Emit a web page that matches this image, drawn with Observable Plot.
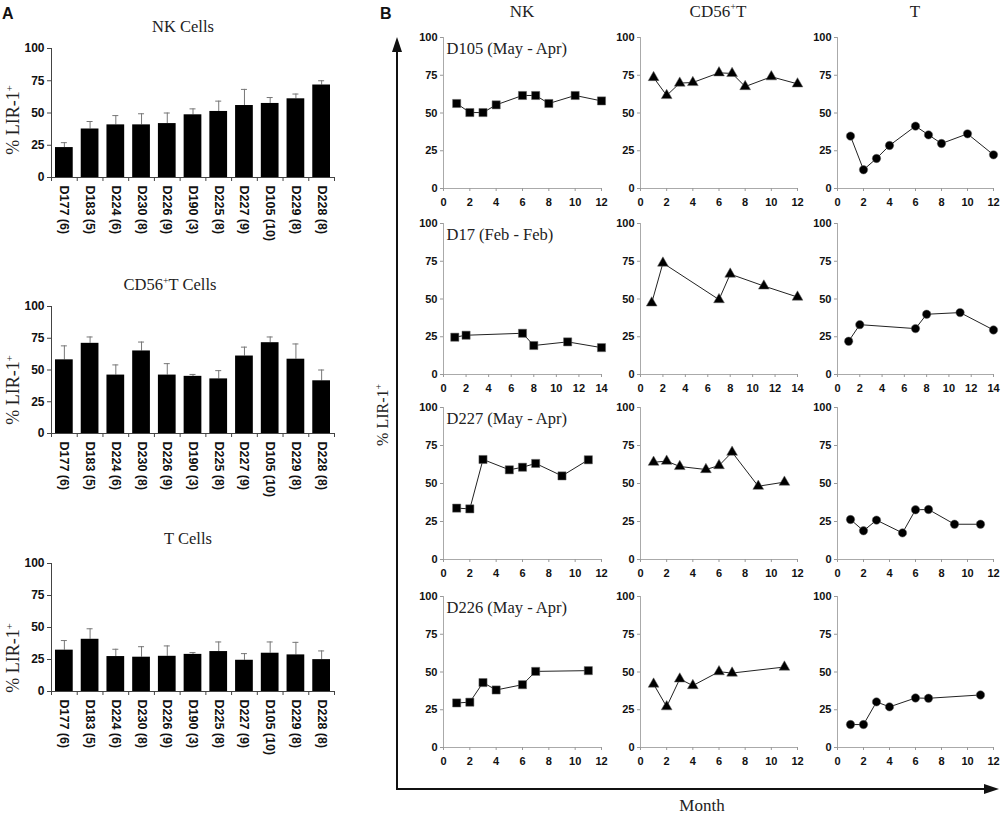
<!DOCTYPE html>
<html><head><meta charset="utf-8">
<script src="https://cdn.jsdelivr.net/npm/d3@7"></script>
<script src="https://cdn.jsdelivr.net/npm/@observablehq/plot@0.6"></script>
<style>
body{margin:0;background:#fff;}
#root{position:relative;width:1003px;height:815px;overflow:hidden;background:#fff;}
.t{position:absolute;white-space:nowrap;font-family:"Liberation Serif","Times New Roman",serif;color:#222;line-height:1;}
.rot{transform:translate(-50%,-50%) rotate(-90deg);}
.ctr{transform:translate(-50%,-50%);}
.lab{position:absolute;font-family:"Liberation Sans",Arial,sans-serif;font-weight:bold;font-size:16px;line-height:1;color:#111;}
sup{font-size:0.6em;vertical-align:0.6em;line-height:0;}
</style></head><body><div id="root"></div>
<script>
// ---------- Panel A data ----------
const donors = ["D177 (6)","D183 (5)","D224 (6)","D230 (8)","D226 (9)","D190 (3)","D225 (8)","D227 (9)","D105 (10)","D229 (8)","D228 (8)"];
const nkMean   = [23.2, 37.6, 40.8, 40.8, 41.8, 48.6, 51.2, 55.8, 57.4, 61.0, 71.7];
const nkSD     = [3.8, 5.8, 7.2, 8.6, 8.2, 4.6, 8.0, 12.5, 4.6, 3.7, 3.3];
const cd56Mean = [58.0, 71.0, 46.0, 65.0, 46.0, 45.0, 43.0, 61.0, 71.5, 58.5, 41.5];
const cd56SD   = [11.0, 5.0, 8.0, 7.0, 9.0, 1.5, 6.5, 7.0, 4.5, 12.0, 8.5];
const tMean    = [32.3, 40.8, 27.3, 26.8, 27.5, 29.0, 31.2, 24.4, 29.9, 28.6, 24.9];
const tSD      = [7.5, 8.2, 5.7, 8.2, 8.1, 1.4, 7.5, 5.2, 8.8, 9.8, 6.8];
const yTicks   = [0, 25, 50, 75, 100];

// ---------- Panel B data ----------
const monthsD105 = [1, 2, 3, 4, 6, 7, 8, 10, 12];
const d105NK     = [56.3, 50.3, 50.3, 55.4, 61.6, 61.6, 56.3, 61.6, 58.0];
const d105CD56T  = [73.5, 61.6, 69.8, 70.2, 76.6, 76.2, 67.5, 74.0, 69.3];
const d105T      = [34.7, 12.4, 19.9, 28.5, 41.3, 35.5, 29.8, 36.2, 22.3];

const monthsD17 = [1, 2, 7, 8, 11, 14];
const d17NK     = [24.7, 26.0, 27.3, 19.2, 21.6, 17.8];
const d17CD56T  = [47.4, 73.8, 49.6, 66.5, 58.6, 51.3];
const d17T      = [22.0, 33.0, 30.4, 39.9, 41.0, 29.5];

const monthsD227 = [1, 2, 3, 5, 6, 7, 9, 11];
const d227NK     = [33.8, 33.3, 65.8, 59.0, 60.7, 63.2, 55.0, 65.6];
const d227CD56T  = [64.0, 64.7, 61.2, 59.2, 61.8, 70.6, 48.2, 50.9];
const d227T      = [26.3, 18.9, 25.9, 17.5, 32.7, 32.9, 23.2, 23.2];

const monthsD226 = [1, 2, 3, 4, 6, 7, 11];
const d226NK     = [29.5, 30.0, 43.0, 38.1, 41.6, 50.4, 50.9];
const d226CD56T  = [42.0, 27.0, 45.4, 41.0, 50.2, 49.3, 53.3];
const d226T      = [15.2, 15.2, 30.2, 26.9, 32.8, 32.6, 34.8];

const donorLabels = ["D105 (May - Apr)", "D17 (Feb - Feb)", "D227 (May - Apr)", "D226 (May - Apr)"];
const monthMax = [12, 14, 12, 12];
const rowsB = [
  [monthsD105, d105NK, d105CD56T, d105T],
  [monthsD17, d17NK, d17CD56T, d17T],
  [monthsD227, d227NK, d227CD56T, d227T],
  [monthsD226, d226NK, d226CD56T, d226T]
];
const symbols = ["square", "triangle", "circle"];

// ---------- layout ----------
const root = document.getElementById("root");
function place(svg, left, top, font) {
  svg.style.position = "absolute";
  svg.style.left = left + "px";
  svg.style.top = top + "px";
  svg.style.background = "none";
  svg.style.overflow = "visible";
  svg.style.maxWidth = "none";
  svg.style.fontFamily = '"Liberation Sans", Arial, sans-serif';
  svg.style.fontWeight = "bold";
  svg.style.fontSize = font + "px";
  svg.style.color = "#111";
  root.appendChild(svg);
}
function html(cls, content, left, top, extra) {
  const d = document.createElement("div");
  d.className = cls;
  d.innerHTML = content;
  d.style.left = left + "px";
  d.style.top = top + "px";
  if (extra) Object.assign(d.style, extra);
  root.appendChild(d);
  return d;
}

// Panel A bar charts
function barPanel(means, sds, y0, y1) {
  const data = donors.map((label, i) => ({i, label, mean: means[i], hi: means[i] + sds[i]}));
  const mt = 10, mb = 70;
  const svg = Plot.plot({
    width: 345, height: mt + (y1 - y0) + mb,
    marginLeft: 51, marginRight: 11, marginTop: mt, marginBottom: mb,
    x: {domain: [0, donors.length], axis: null},
    y: {domain: [0, 100], axis: null},
    marks: [
      Plot.ruleX(data, {x: d => d.i + 0.5, y1: "mean", y2: "hi", stroke: "#777", strokeWidth: 1}),
      Plot.ruleY(data, {y: "hi", x1: d => d.i + 0.5, x2: d => d.i + 0.5, insetLeft: -3, insetRight: -3, stroke: "#777", strokeWidth: 1}),
      Plot.rectY(data, {x1: "i", x2: d => d.i + 1, y: "mean", insetLeft: 4, insetRight: 4, fill: "#000"}),
      Plot.ruleX([0], {stroke: "#444"}),
      Plot.ruleY([0], {stroke: "#444"}),
      Plot.axisY({ticks: yTicks, tickSize: 4, tickPadding: 3, stroke: "#444", label: null}),
      Plot.axisX({ticks: d3.range(donors.length + 1), tickSize: 4, tickFormat: () => "", stroke: "#444", label: null}),
      Plot.text(data, {x: d => d.i + 0.5, frameAnchor: "bottom", text: "label", rotate: 90, textAnchor: "start", lineAnchor: "middle", dy: 8, fontSize: 12.5, fill: "#111"})
    ]
  });
  place(svg, 0, y0 - mt, 12);
}
barPanel(nkMean, nkSD, 48, 177);
barPanel(cd56Mean, cd56SD, 306, 433);
barPanel(tMean, tSD, 563, 691);

// Panel B line charts
const colsB = [[443, 601], [640, 797], [837, 993]];
const rowsY = [[37, 188], [223, 374], [407, 559], [596, 747]];
rowsB.forEach((row, r) => {
  const months = row[0];
  for (let c = 0; c < 3; c++) {
    const vals = row[c + 1];
    const data = months.map((m, i) => ({m, v: vals[i]}));
    const [x0, x1] = colsB[c], [y0, y1] = rowsY[r];
    const ml = 32, mr = 10, mt = 10, mb = 26;
    const marks = [
      Plot.ruleX([0], {stroke: "#aaa"}),
      Plot.ruleY([0], {stroke: "#aaa"}),
      Plot.axisY({ticks: yTicks, tickSize: 3, tickPadding: 3, stroke: "#999", label: null}),
      Plot.axisX({ticks: d3.range(0, monthMax[r] + 1, 2), tickSize: 3, tickPadding: 7, stroke: "#999", label: null}),
      Plot.line(data, {x: "m", y: "v", stroke: "#222", strokeWidth: 1}),
      Plot.dot(data, {x: "m", y: "v", symbol: symbols[c], r: c === 0 ? 4.6 : (c === 1 ? 4 : 4.2), fill: "#000", stroke: "#666", strokeWidth: 0.5})
    ];
    if (c === 0) marks.push(Plot.text([donorLabels[r]], {frameAnchor: "top-left", text: d => d, dx: 3, dy: 5, lineAnchor: "top", textAnchor: "start", fontFamily: '"Liberation Serif", "Times New Roman", serif', fontWeight: "normal", fontSize: 16.5, fill: "#222"}));
    const svg = Plot.plot({
      width: ml + (x1 - x0) + mr, height: mt + (y1 - y0) + mb,
      marginLeft: ml, marginRight: mr, marginTop: mt, marginBottom: mb,
      x: {domain: [0, monthMax[r]], axis: null},
      y: {domain: [0, 100], axis: null},
      marks
    });
    place(svg, x0 - ml, y0 - mt, 11);
  }
});

// arrows for panel B
const ns = "http://www.w3.org/2000/svg";
const ov = document.createElementNS(ns, "svg");
ov.setAttribute("width", 1003); ov.setAttribute("height", 815);
ov.style.position = "absolute"; ov.style.left = "0"; ov.style.top = "0"; ov.style.pointerEvents = "none";
ov.innerHTML = '<path d="M397,790 V50 M396,789 H985" fill="none" stroke="#111" stroke-width="2"/>' +
  '<path d="M397,37 L392,52 L402,52 Z" fill="#111"/>' +
  '<path d="M999,789 L984,784 L984,794 Z" fill="#111"/>';
root.appendChild(ov);

// text
html("lab", "A", 2, 6);
html("lab", "B", 380, 6);
html("t ctr", "NK Cells", 183, 27, {fontSize: "16.5px"});
html("t ctr", "CD56<sup>+</sup>T Cells", 170, 285, {fontSize: "16.5px"});
html("t ctr", "T Cells", 188, 539, {fontSize: "16.5px"});
html("t rot", "% LIR-1<sup>+</sup>", 13, 120, {fontSize: "18px"});
html("t rot", "% LIR-1<sup>+</sup>", 13, 390, {fontSize: "18px"});
html("t rot", "% LIR-1<sup>+</sup>", 13, 658, {fontSize: "18px"});
html("t ctr", "NK", 522, 11, {fontSize: "17px"});
html("t ctr", "CD56<sup>+</sup>T", 718, 11, {fontSize: "17px"});
html("t ctr", "T", 915, 11, {fontSize: "17px"});
html("t rot", "% LIR-1<sup>+</sup>", 383, 415, {fontSize: "16px"});
html("t ctr", "Month", 702, 805, {fontSize: "17px"});
</script></body></html>
